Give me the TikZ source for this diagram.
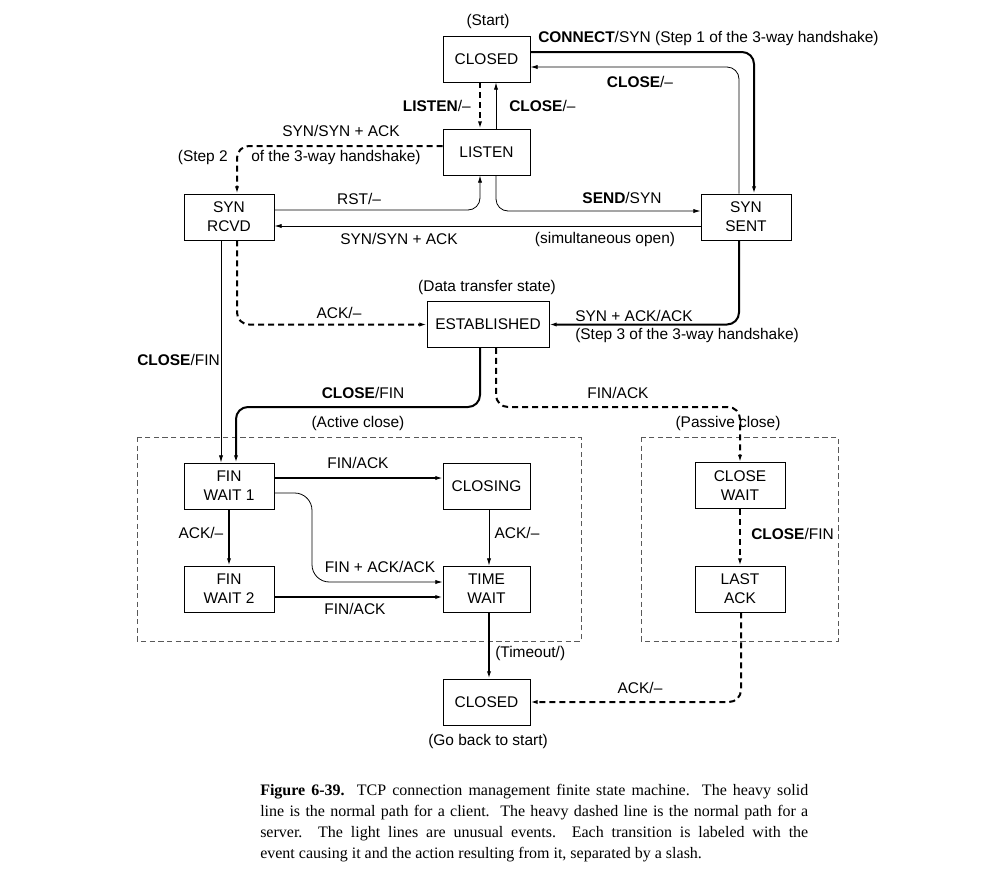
\documentclass[tikz,border=0pt]{standalone}
\usepackage{fontspec}
\setmainfont{Liberation Sans}
\newfontfamily\capfont{Liberation Serif}
\usetikzlibrary{arrows.meta,calc}
\begin{document}
\begin{tikzpicture}[x=0.75pt,y=-0.75pt,
  font=\fontsize{11.6pt}{14.25pt}\selectfont,
  st/.style={draw,line width=0.6pt,minimum width=65.25pt,minimum height=34.5pt,align=center,inner sep=1pt},
  wide/.style={minimum width=67.5pt},
  est/.style={minimum width=91.5pt},
  lbl/.style={inner sep=0pt},
  tip/.style={-{Latex[length=5.5pt,width=3.2pt]}},
  light/.style={tip,line width=0.6pt},
  medium/.style={tip,line width=0.9pt},
  heavy/.style={tip,line width=1.5pt},
  heavyd/.style={tip,line width=1.5pt,dash pattern=on 4.5pt off 3pt},
  grpbox/.style={draw=black!65,line width=0.6pt,dash pattern=on 4pt off 2.5pt},
  rc/.style={rounded corners=9pt}
]
\useasboundingbox (0,0) rectangle (990,876);
% states
\node[st] (C0) at (486.5,59) {CLOSED};
\node[st] (L) at (486.5,152) {LISTEN};
\node[st,wide] (SR) at (229,217) {SYN\\RCVD};
\node[st,wide] (SS) at (746,217) {SYN\\SENT};
\node[st,est] (E) at (488,324.5) {ESTABLISHED};
\node[st,wide] (F1) at (229,486) {FIN\\WAIT 1};
\node[st] (CL) at (486.5,486) {CLOSING};
\node[st,wide] (F2) at (229,589) {FIN\\WAIT 2};
\node[st] (TW) at (486.5,589) {TIME\\WAIT};
\node[st,wide] (CW) at (740,485.5) {CLOSE\\WAIT};
\node[st,wide] (LA) at (740,589) {LAST\\ACK};
\node[st] (C1) at (486.5,702) {CLOSED};
% groups
\draw[grpbox] (137,437) rectangle (581,641);
\draw[grpbox] (641,437) rectangle (838,641);
% labels
\node[lbl] (t1) at (488,21) {(Start)};
\node[lbl,anchor=west] (t2) at (538,38) {\textbf{CONNECT}/SYN (Step 1 of the 3-way handshake)};
\node[lbl] (t3) at (640,82) {\textbf{CLOSE}/–};
\node[lbl,anchor=east] (t4) at (471,106) {\textbf{LISTEN}/–};
\node[lbl,anchor=west] (t5) at (509,106) {\textbf{CLOSE}/–};
\node[lbl] (t6) at (341,131) {SYN/SYN + ACK};
\node[lbl,anchor=east] (t7) at (228,157) {(Step 2};
\node[lbl,anchor=west] (t8) at (251,157) {of the 3-way handshake)};
\node[lbl] (t9) at (359,199) {RST/–};
\node[lbl] (t10) at (622,198) {\textbf{SEND}/SYN};
\node[lbl] (t11) at (399,239) {SYN/SYN + ACK};
\node[lbl] (t12) at (605,239) {(simultaneous open)};
\node[lbl] (t13) at (487,287) {(Data transfer state)};
\node[lbl] (t14) at (339,313) {ACK/–};
\node[lbl,anchor=west] (t15) at (575,316) {SYN + ACK/ACK};
\node[lbl,anchor=west] (t16) at (575,335) {(Step 3 of the 3-way handshake)};
\node[lbl,anchor=west] (t17) at (137,360) {\textbf{CLOSE}/FIN};
\node[lbl] (t18) at (363,393) {\textbf{CLOSE}/FIN};
\node[lbl] (t19) at (618,393) {FIN/ACK};
\node[lbl] (t20) at (358,423) {(Active close)};
\node[lbl] (t21) at (728,423) {(Passive close)};
\node[lbl] (t22) at (358,463) {FIN/ACK};
\node[lbl] (t23) at (201,533) {ACK/–};
\node[lbl] (t24) at (517,533) {ACK/–};
\node[lbl,anchor=west] (t25) at (751,534) {\textbf{CLOSE}/FIN};
\node[lbl] (t26) at (380,567) {FIN + ACK/ACK};
\node[lbl] (t27) at (355,609) {FIN/ACK};
\node[lbl,anchor=west] (t28) at (495,653) {(Timeout/)};
\node[lbl] (t29) at (640,688) {ACK/–};
\node[lbl] (t30) at (488,741) {(Go back to start)};
% connectors
\draw[heavy,rc] (C0.east |- 0,52) -| (SS.north -| 754,0);
\draw[light,rc] (SS.north -| 739,0) |- (C0.east |- 0,67);
\draw[heavyd] (C0.south -| 480,0) -- (L.north -| 480,0);
\draw[light] (L.north -| 496,0) -- (C0.south -| 496,0);
\draw[heavyd,rc] (L.west |- 0,146) -| (SR.north -| 237,0);
\draw[light,rc] (SR.east |- 0,210) -| (L.south -| 480,0);
\draw[light,rc] (L.south -| 496,0) |- (SS.west |- 0,211);
\draw[light] (SS.west |- 0,226) -- (SR.east |- 0,226);
\draw[heavy,rc] (SS.south -| 739,0) |- (E.east);
\draw[heavyd,rc] (SR.south -| 237,0) |- (E.west);
\draw[light] (SR.south -| 221,0) -- (F1.north -| 221,0);
\draw[heavy,rc] (E.south -| 480,0) |- (236,407) -- (F1.north -| 236,0);
\draw[heavyd,rc] (E.south -| 496,0) |- (740,407) -- (CW.north);
\draw[medium] (F1.east |- 0,478) -- (CL.west |- 0,478);
\draw[light,rounded corners=13pt] (F1.east |- 0,493) -| (312,582) -- (TW.west |- 0,582);
\draw[heavy] (F1.south) -- (F2.north);
\draw[light] (CL.south -| 489,0) -- (TW.north -| 489,0);
\draw[heavy] (F2.east |- 0,597) -- (TW.west |- 0,597);
\draw[heavy] (TW.south -| 489,0) -- (C1.north -| 489,0);
\draw[heavyd,rc] (LA.south -| 741,0) |- (C1.east);
\draw[heavyd] (CW.south) -- (LA.north);
% caption
\node[anchor=north west,inner sep=0pt,text width=411pt,align=justify,
  font=\capfont\fontsize{12pt}{15.75pt}\selectfont] (cap) at (260,784)
  {\textbf{Figure 6-39.}\ \ TCP connection management finite state machine.\ \ The heavy solid\linebreak
   line is the normal path for a client.\ \ The heavy dashed line is the normal path for a\linebreak
   server.\ \ The light lines are unusual events.\ \ Each transition is labeled with the\linebreak
   event causing it and the action resulting from it, separated by a slash.};
\end{tikzpicture}
\end{document}
